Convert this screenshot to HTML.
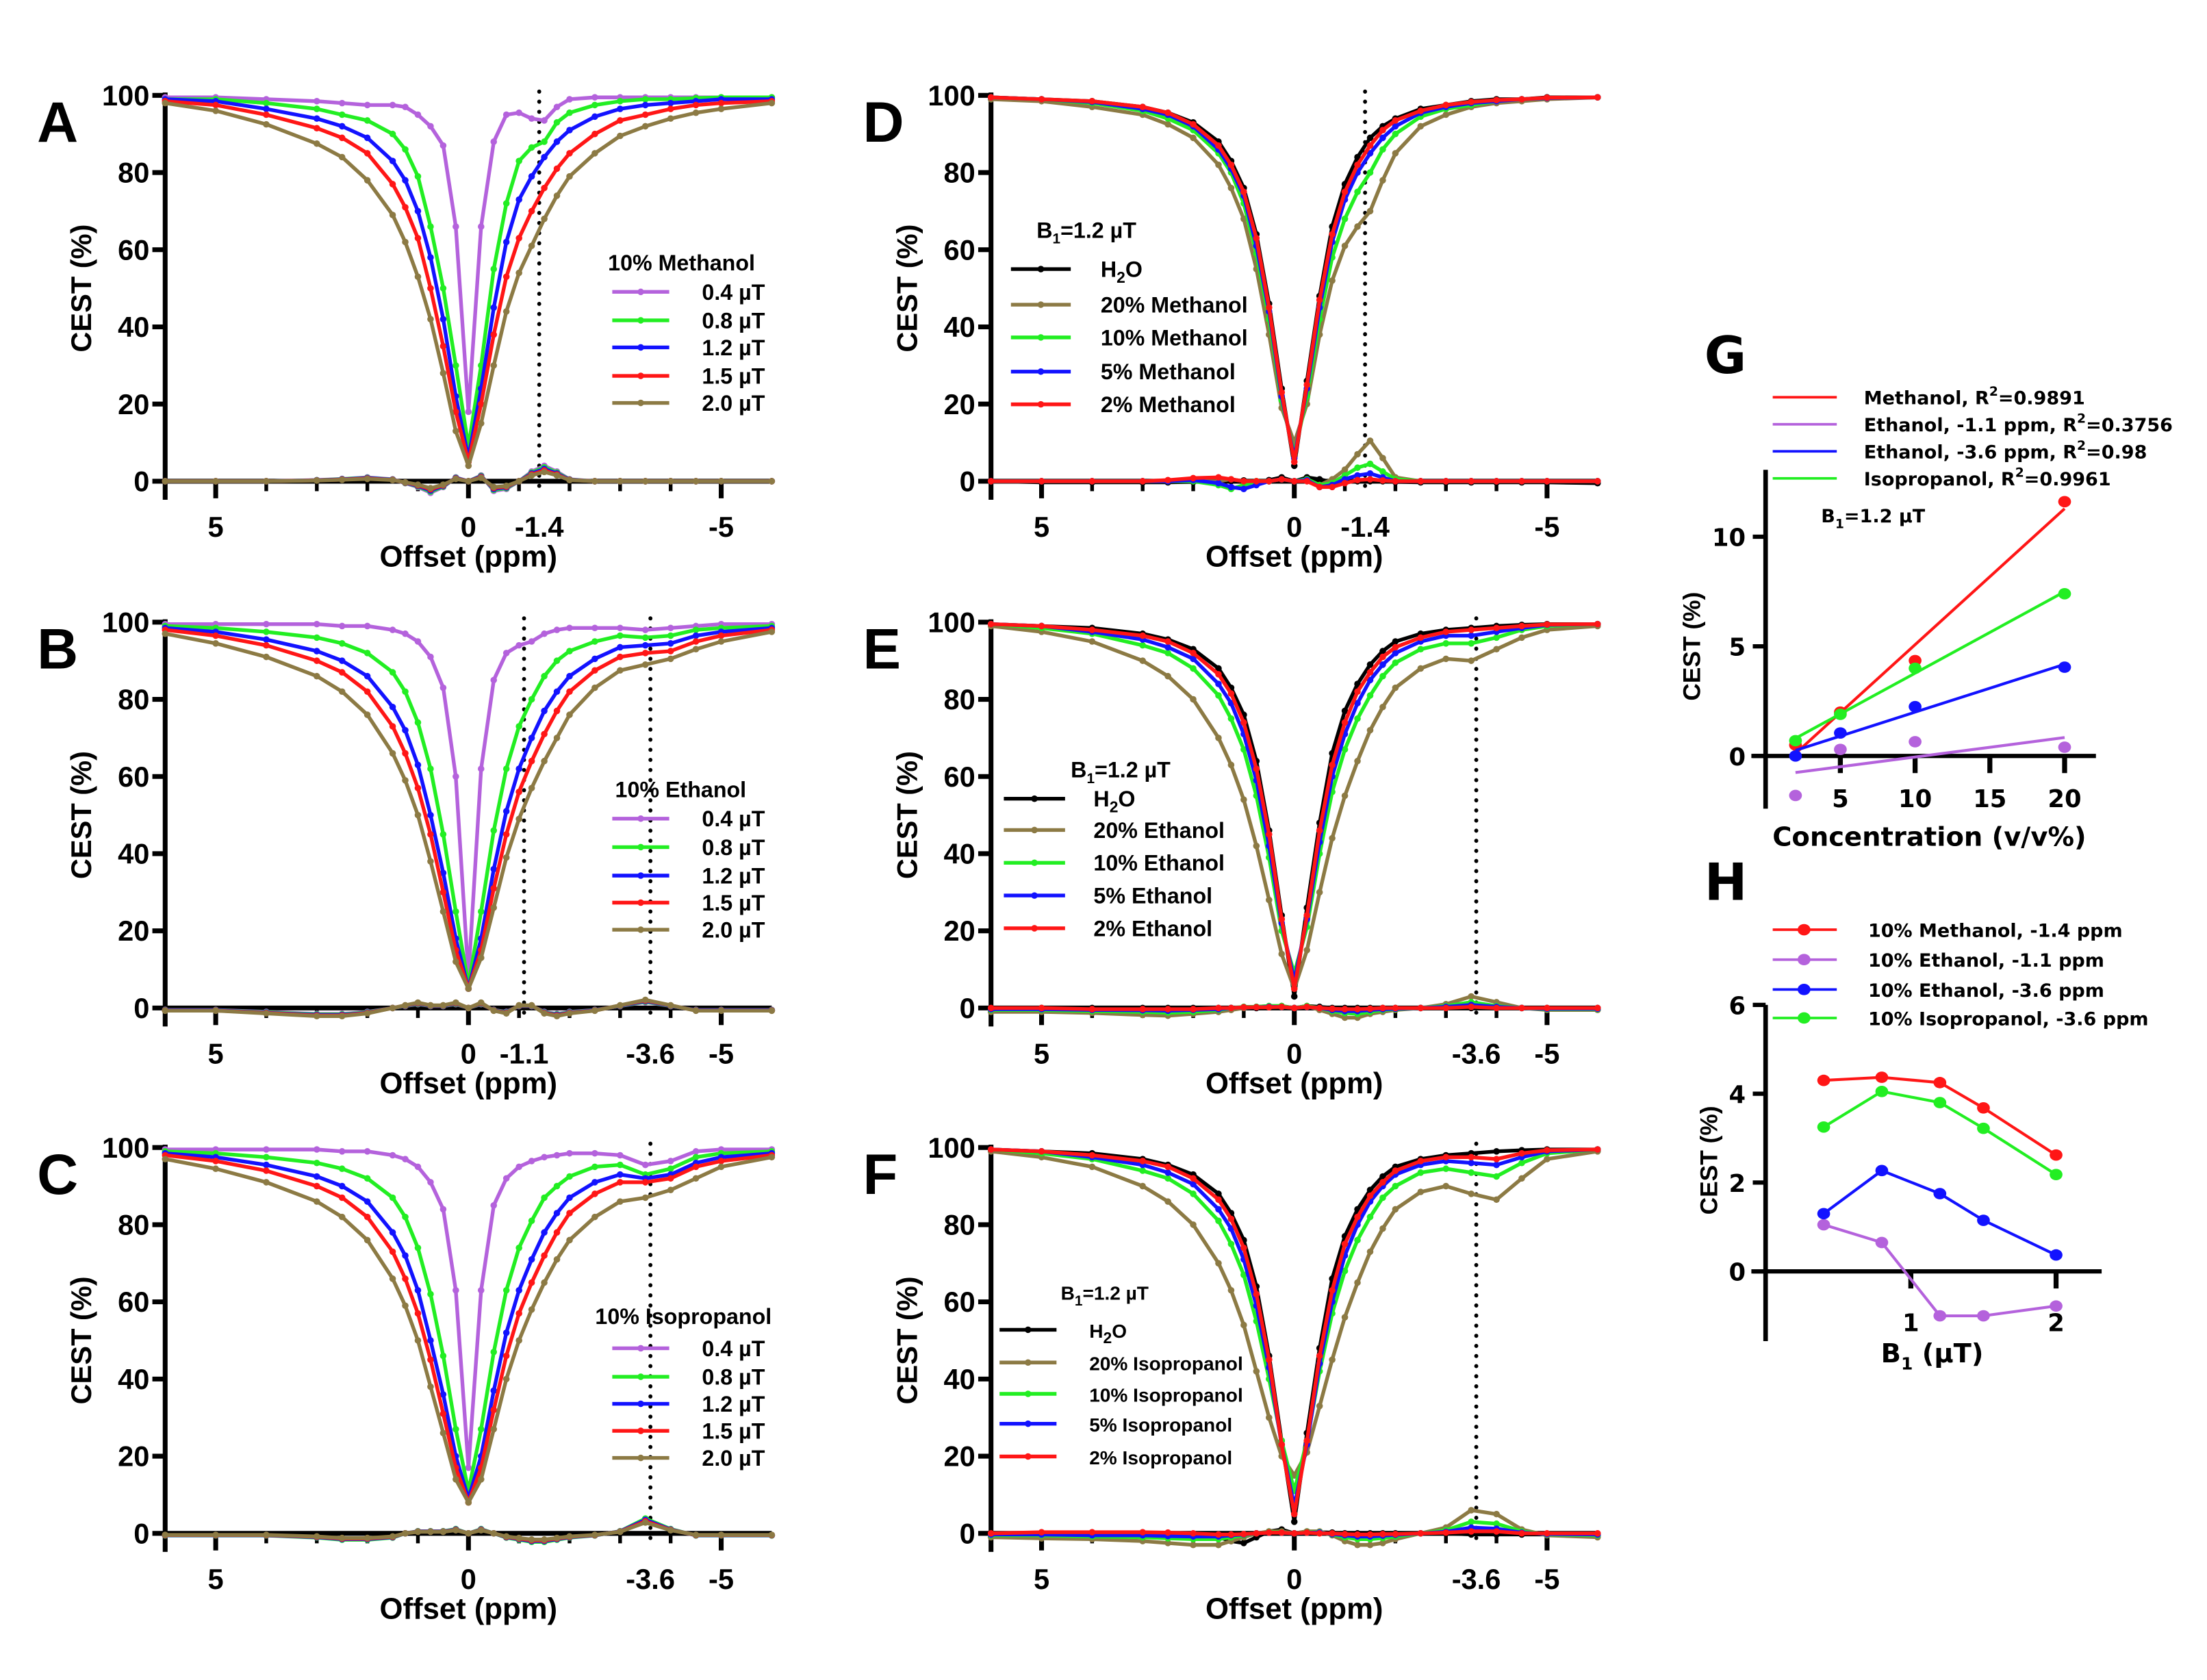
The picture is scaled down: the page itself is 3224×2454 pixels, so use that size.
<!DOCTYPE html>
<html><head><meta charset="utf-8"><style>
html,body{margin:0;padding:0;background:#fff;}
svg{display:block;font-family:"Liberation Sans Narrow","Liberation Sans",Arial,sans-serif;font-weight:bold;}
</style></head><body>
<svg id="fig" width="3224" height="2454" viewBox="0 0 1550 1180" preserveAspectRatio="none" xmlns="http://www.w3.org/2000/svg"></svg>
<script>
// ---------- data ----------
const offsets = [6,5,4,3,2.5,2,1.5,1.25,1,0.75,0.5,0.25,0,-0.25,-0.5,-0.75,-1,-1.25,-1.5,-1.75,-2,-2.5,-3,-3.5,-4,-4.5,-5,-6];

// Panel A: 10% methanol, B1 series
const A_b04 = [99.5,99.5,99,98.5,98,97.5,97.5,97,95,92,87,66,18,66,88,95,95.5,94,93.5,97,99,99.5,99.5,99.5,99.5,99.5,99.5,99.5];
const A_b08 = [99,99,98,96.5,95,93.5,90,86,79,66,50,30,9,30,55,72,83,86.5,88,93,95.5,97.5,98.5,99,99,99.3,99.5,99.5];
const A_b12 = [99,98.5,96.5,94,92,89,83,78,70,58,42,22,6,24,45,62,73,79,84,88,91,94.5,96.5,97.5,98,98.5,99,99];
const A_b15 = [98.5,97.5,95,91.5,89,85,77,71,63,50,35,18,5,20,38,53,63,70,76,81,85,90,93.5,95,96.5,97.5,98,98.5];
const A_b20 = [98,96,92.5,87.5,84,78,69,62,53,42,28,13,4,15,30,44,54,61,68,74,79,85,89.5,92,94,95.5,96.5,98];
const A_asym = [0,0,0,0.3,0.6,1,0.5,-0.5,-1.5,-3,-1.5,1,0,1.5,-2.5,-2,0,2.5,4,2.5,0.5,0,0,0,0,0,0,0];

// Panel B: 10% ethanol, B1 series
const B_b04 = [99.5,99.5,99.5,99.5,99,99,98,97,95,91,83,60,8,62,85,92,94,95,97,98,98.5,98.5,98.5,98,98.5,99,99.5,99.5];
const B_b08 = [99,98.5,97.5,96,94.5,92,87,82,74,62,45,25,6,25,46,62,73,80,86,90,92.5,95,96.5,96,96.5,98,98.5,99];
const B_b12 = [98.5,97.5,95.5,92.5,90,86,78,72,63,50,35,18,5,18,36,51,62,70,77,82,86,90.5,93.5,94,94.5,96.5,97.5,98.5];
const B_b15 = [98,96.5,94,90,87,82,73,66,57,45,30,15,5,15,31,45,56,64,71,77,82,87.5,91,92,92.5,95,96.5,98];
const B_b20 = [97,94.5,91,86,82,76,66,59,50,38,25,12,5,13,26,39,49,57,64,70,76,83,87.5,89,90.5,93,95,97.5];
const B_asym = [-0.5,-0.5,-1,-1.5,-1.5,-1,0,0.5,1,0.5,0.5,1,0,1,-0.5,-1,0.5,0.5,-1,-1.5,-1,-0.5,0.5,1.5,0.5,-0.5,-0.5,-0.5];

// Panel C: 10% isopropanol, B1 series
const C_b04 = [99.5,99.5,99.5,99.5,99,99,98,97,95,91,84,63,17,63,85,92,95,96.5,97.5,98,98.5,98.5,98,95.5,96.5,99,99.5,99.5];
const C_b08 = [99,98.5,97.5,96,94.5,92,87,82,74,62,46,27,11,27,47,63,74,81,87,90,92.5,95,95.5,93,94.5,97.5,98.5,99];
const C_b12 = [98.5,97.5,95.5,92.5,90,86,78,72,63,50,36,20,9,20,37,52,63,71,78,83,87,91,93,92,93,96,97.5,98.5];
const C_b15 = [98,96.5,94,90,87,82,73,66,57,45,31,17,8,17,32,46,57,65,72,78,83,88,91,91,92,95,96.5,98];
const C_b20 = [97,94.5,91,86,82,76,66,59,50,38,26,14,8,14,27,40,50,58,65,71,76,82,86,87,89,92,95,97.5];
const C_asym = [-0.5,-0.5,-0.5,-1,-1.5,-1.5,-1,0,0.5,0.5,0.5,1,0,1,0,-1,-1.5,-2,-2,-1.5,-1,-0.5,0.5,3.5,1,-0.5,-0.5,-0.5];

// Panel D: methanol concentrations at 1.2 uT
const D_h2o = [99.5,99,98.5,97,95.5,93,88,83,76,64,46,24,4,26,48,66,77,84,89,92,94,96.5,97.5,98.5,99,99,99.5,99.5];
const D_c20 = [99,98.5,97,95,92.5,89,82,76,68,55,38,19,10,20,38,52,61,66,70,78,85,92,95,97,98,98.5,99,99.5];
const D_c10 = [99.5,99,98,96,94,91,85,80,72,59,42,21,7,22,42,58,68,75,80,86,90,94.5,96.5,97.5,98.5,99,99.3,99.5];
const D_c05 = [99.5,99,98.3,96.5,95,92,86,81,74,61,44,22,6,24,45,62,73,80,85,89,92,95.5,97,98,98.5,99,99.3,99.5];
const D_c02 = [99.5,99,98.5,97,95.5,92.5,87,82,75,63,45,23,5,25,47,64,75,82,87,91,93.5,96,97.5,98.3,98.8,99,99.4,99.5];
const D_a20 = [0,0,0,0,0,0,0,0.5,0,0,0,0.5,0,0.5,-1,0.5,3,7,10.5,6,1,0,0,0,0,0,0,0];
const D_a10 = [0,0,0,0,0,0,-1,-2,-1,0,0,0.5,0,0.5,-1,-0.5,1.5,3.5,4.5,2.5,0.5,0,0,0,0,0,0,0];
const D_a05 = [0,0,0,0,0,0.3,-0.5,-1.5,-2,-1,0,0.5,0,0.3,-1.5,-1,0.5,1.5,2,1,0,0,0,0,0,0,0,0];
const D_a02 = [0,0,0,0,0.3,0.8,1,0.5,0,0,0,0.5,0,0,-1.5,-1.5,-0.5,0.3,0.5,0.2,0,0,0,0,0,0,0,0];
const D_ah2o = [0,-0.3,-0.3,-0.3,-0.3,-0.2,-0.2,0,0.2,-0.5,0.3,1,0,1,0.5,-0.3,0,0,0,0,-0.2,-0.3,-0.3,-0.3,-0.3,-0.3,-0.3,-0.5];

// Panel E: ethanol concentrations at 1.2 uT
const E_h2o = [99.5,99,98.5,97,95.5,93,88,83,76,64,46,24,3,26,48,66,77,84,89,92.5,95,97,98,98.5,99,99.3,99.5,99.5];
const E_c20 = [99,97.5,95,90,86,80,70,63,54,42,28,14,5,15,30,44,55,64,72,78,83,88,90.5,90,93,96,98,99];
const E_c10 = [99.5,98.5,97,94,92,88,81,75,67,55,39,20,9,21,40,56,67,75,81,86,89.5,93,94.5,94.5,96,98,99,99.5];
const E_c05 = [99.5,99,97.5,95.5,93.5,90.5,84,79,71,59,42,22,7,23,43,60,71,79,85,89,92,95,96.5,96.5,97.5,98.5,99.3,99.5];
const E_c02 = [99.5,99,98,96.5,95,92,86.5,81.5,74,62,45,23,5,24,46,63,74,82,87,91,93.5,96,97.5,98,98.5,99,99.4,99.5];
const E_a20 = [-1,-1,-1.3,-1.8,-2,-1.5,-1,-0.5,0,0.3,0.5,0.5,0,0.5,-0.5,-1.5,-2.5,-2.5,-1.5,-1,-0.5,0,1,3,1.5,0,-0.5,-0.5];
const E_a10 = [-0.5,-0.5,-0.8,-1,-1.2,-1,-0.5,0,0.3,0.3,0.5,0.5,0,0.5,0,-0.8,-1.3,-1.5,-1,-0.5,-0.3,0,0.5,1.5,0.5,0,-0.3,-0.3];
const E_a05 = [-0.3,-0.3,-0.5,-0.6,-0.7,-0.5,-0.3,0,0.2,0.2,0.3,0.3,0,0.3,0,-0.5,-0.8,-0.8,-0.5,-0.3,-0.2,0,0.3,0.8,0.3,0,-0.2,-0.2];
const E_a02 = [0,0,-0.3,-0.3,-0.3,-0.3,0,0,0.2,0.2,0.2,0.3,0,0.3,0,-0.2,-0.3,-0.3,-0.2,0,0,0,0,0.3,0,0,0,0];
const E_ah2o = [0,0,0,0,0,0,0,0,0,0,0.3,0.5,0,0.5,0.3,0,0,0,0,0,0,0,0,0,0,0,0,0];

// Panel F: isopropanol concentrations at 1.2 uT
const F_h2o = [99.5,99,98.5,97,95.5,93,88,83,76,64,46,24,3,26,48,66,77,84,89,92.5,95,97,98,98.5,99,99.3,99.5,99.5];
const F_c20 = [99,97.5,95,90,86,80,70,63,54,42,30,20,15,21,33,45,56,65,73,79,84,88.5,90,88,86.5,92,97,99];
const F_c10 = [99.5,98.5,97,94,92,88,81,75,67,55,40,24,11,24,42,57,68,76,82,87,90,93.5,94.5,93.5,92.5,96,98.5,99.5];
const F_c05 = [99.5,99,97.5,95.5,93.5,90.5,84,79,71,59,43,23,7,23,44,60,72,80,86,90,93,95.5,96.5,96,95.5,97.5,99,99.5];
const F_c02 = [99.5,99,98,96.5,95,92,86.5,81.5,74,62,45,23,5,24,46,63,75,82,87.5,91,94,96.5,97.5,97.5,97,98.5,99.3,99.5];
const F_a20 = [-1,-1.3,-1.5,-2,-2.5,-3,-3,-2,-1,0,0.5,0.5,0,0.5,0.5,-0.5,-2,-3,-3,-2.5,-1.5,0,1.5,6,5,1,-0.5,-1];
const F_a10 = [-0.5,-0.5,-0.8,-1,-1.3,-1.5,-1.5,-1,-0.5,0,0.3,0.3,0,0.3,0.3,-0.3,-1,-1.5,-1.5,-1.2,-0.8,0,0.8,3,2.5,0.5,-0.3,-0.5];
const F_a05 = [-0.3,-0.3,-0.5,-0.5,-0.7,-0.8,-0.8,-0.5,-0.3,0,0.2,0.2,0,0.2,0.2,-0.2,-0.5,-0.8,-0.8,-0.6,-0.4,0,0.4,1.5,1.2,0.2,-0.2,-0.3];
const F_a02 = [0,0.3,0.3,0.3,0.2,0,-0.3,-0.3,-0.2,0,0.2,0.2,0,0.2,0,0,-0.2,-0.3,-0.3,-0.2,-0.2,0,0.2,0.5,0.5,0,0,0];
const F_ah2o = [-0.3,-0.3,-0.3,-0.3,-0.3,-0.5,-1,-2,-2.5,-1,0.5,1,0,0.5,0.3,0.2,0,0,0,0,0,0,0,-0.3,-0.3,-0.3,-0.3,-0.3];

// Panel G: concentration dependence at 1.2 uT
const G_conc = [2,5,10,20];
const G_meth = [0.5,2.0,4.35,11.6];
const G_eth11 = [-1.8,0.3,0.65,0.4];
const G_eth36 = [0.0,1.05,2.25,4.05];
const G_iso = [0.7,1.9,4.0,7.4];
const G_yticks = [0,5,10];
const G_xticks = [5,10,15,20];

// Panel H: B1 dependence
const H_b1 = [0.4,0.8,1.2,1.5,2.0];
const H_meth = [4.3,4.37,4.25,3.68,2.62];
const H_eth11 = [1.05,0.65,-1.0,-1.0,-0.78];
const H_eth36 = [1.3,2.27,1.75,1.15,0.37];
const H_iso = [3.25,4.05,3.8,3.22,2.18];
const H_yticks = [0,2,4,6];
const H_xticks = [1,2];

const COL = {purple:'#b462dc', green:'#22ee22', blue:'#1212ff', red:'#ff1616', brown:'#8c7a44', black:'#000'};

// ---------- helpers ----------
const svg = document.getElementById('fig');
const NS = 'http://www.w3.org/2000/svg';
function el(tag, attrs, parent){
  const e = document.createElementNS(NS, tag);
  for (const k in attrs) e.setAttribute(k, attrs[k]);
  (parent||svg).appendChild(e);
  return e;
}
function txt(x,y,s,size,anchor,parent,name){
  const t = el('text',{x:x,y:y,'font-size':size,'text-anchor':anchor||'start'},parent);
  
  
  t.innerHTML = s;
  return t;
}

function zPanel(cfg){
  const g = el('g',{});
  
  
  const ax = cfg.ax, y0 = cfg.y0, ppx = 35.5, vpx = 2.71;
  const xs = p => ax + (6 - p) * ppx;
  const ys = v => y0 - v * vpx;
  cfg.dots.forEach(d => {
    const l = el('line',{x1:xs(d),x2:xs(d),y1:ys(101),y2:y0+10,stroke:'#000','stroke-width':2.8,'stroke-dasharray':'0.1 7','stroke-linecap':'round'},g);
    
    
  });
  const yAx = el('line',{x1:ax,x2:ax,y1:ys(100)-2,y2:y0+13,stroke:'#000','stroke-width':3.4},g);
  
  
  const xAx = el('line',{x1:ax,x2:xs(-6),y1:y0,y2:y0,stroke:'#000','stroke-width':3.4},g);
  
  
  [0,20,40,60,80,100].forEach(v => {
    el('line',{x1:ax-9,x2:ax,y1:ys(v),y2:ys(v),stroke:'#000','stroke-width':3.4},g);
    txt(ax-11, ys(v)+7, String(v), 20, 'end', g, 'y-tick-label');
  });
  for (let p = 5; p >= -5; p--) {
    const major = (p===5||p===0||p===-5);
    el('line',{x1:xs(p),x2:xs(p),y1:y0,y2:y0+(major?12:7),stroke:'#000','stroke-width':major?3.4:2.6},g);
  }
  cfg.xlabels.forEach(([p,s]) => txt(xs(p), y0+39, s, 20, 'middle', g, 'x-tick-label'));
  txt(xs(0), y0+60, 'Offset (ppm)', 21, 'middle', g, 'x-axis-title');
  const yt = txt(0,0,'CEST (%)',20,'middle',g,'y-axis-title');
  yt.setAttribute('font-family',"'Liberation Sans',sans-serif");
  yt.setAttribute('transform', `translate(${ax-52},${ys(50)}) rotate(-90)`);
  txt(ax-90, ys(88), cfg.letter, 40, 'start', g, 'panel-letter').setAttribute('font-family',"'Liberation Sans',sans-serif");
  cfg.series.forEach(s => {
    const sg = el('g',{},g);
    
    
    [s.asym, s.z].forEach(arr => {
      if (!arr) return;
      const pts = offsets.map((o,i) => xs(o).toFixed(1)+','+ys(arr[i]).toFixed(1)).join(' ');
      const pl = el('polyline',{points:pts,fill:'none',stroke:s.c,'stroke-width':2.6,'stroke-linejoin':'round'},sg);
      
      
      offsets.forEach((o,i) => {
        const c = el('circle',{cx:xs(o),cy:ys(arr[i]),r:2.3,fill:s.c},sg);
        
        
      });
    });
  });
  const lg = el('g',{},g);
  
  
  txt(cfg.leg.tx, cfg.leg.ty, cfg.leg.title, cfg.leg.fs, 'start', lg, 'legend-title');
  cfg.series.forEach((s,i) => {
    const y = cfg.leg.rows[i];
    const l = el('line',{x1:cfg.leg.lx1,x2:cfg.leg.lx2,y1:y,y2:y,stroke:s.c,'stroke-width':2.6},lg);
    
    
    el('circle',{cx:(cfg.leg.lx1+cfg.leg.lx2)/2,cy:y,r:2.3,fill:s.c},lg);
    txt(cfg.leg.lab, y+5.5, s.label, cfg.leg.fs, 'start', lg, 'legend-entry');
  });
}

const B1 = 'B<tspan font-size="10" dy="4">1</tspan><tspan dy="-4">=1.2 µT</tspan>';
const H2O = 'H<tspan font-size="11" dy="4">2</tspan><tspan dy="-4">O</tspan>';

zPanel({name:'panel-a',letter:'A',ax:116,y0:338,dots:[-1.4],xlabels:[[5,'5'],[0,'0'],[-1.4,'-1.4'],[-5,'-5']],
  series:[{key:'0.4uT',c:COL.purple,z:A_b04,asym:A_asym,label:'0.4 µT'},{key:'0.8uT',c:COL.green,z:A_b08,asym:A_asym.map(v=>v*0.9),label:'0.8 µT'},
          {key:'1.2uT',c:COL.blue,z:A_b12,asym:A_asym.map(v=>v*0.8),label:'1.2 µT'},{key:'1.5uT',c:COL.red,z:A_b15,asym:A_asym.map(v=>v*0.7),label:'1.5 µT'},
          {key:'2.0uT',c:COL.brown,z:A_b20,asym:A_asym.map(v=>v*0.6),label:'2.0 µT'}],
  leg:{title:'10% Methanol',tx:427,ty:190,fs:15.5,rows:[205,225,244,264,283],lx1:430,lx2:470,lab:493}});
zPanel({name:'panel-b',letter:'B',ax:116,y0:708,dots:[-1.1,-3.6],xlabels:[[5,'5'],[0,'0'],[-1.1,'-1.1'],[-3.6,'-3.6'],[-5,'-5']],
  series:[{key:'0.4uT',c:COL.purple,z:B_b04,asym:B_asym,label:'0.4 µT'},{key:'0.8uT',c:COL.green,z:B_b08,asym:B_asym.map(v=>v*1.1),label:'0.8 µT'},
          {key:'1.2uT',c:COL.blue,z:B_b12,asym:B_asym.map(v=>v*1.2),label:'1.2 µT'},{key:'1.5uT',c:COL.red,z:B_b15,asym:B_asym.map(v=>v*1.3),label:'1.5 µT'},
          {key:'2.0uT',c:COL.brown,z:B_b20,asym:B_asym.map(v=>v*1.4),label:'2.0 µT'}],
  leg:{title:'10% Ethanol',tx:432,ty:560,fs:15.5,rows:[575,595,615,634,653],lx1:430,lx2:470,lab:493}});
zPanel({name:'panel-c',letter:'C',ax:116,y0:1077,dots:[-3.6],xlabels:[[5,'5'],[0,'0'],[-3.6,'-3.6'],[-5,'-5']],
  series:[{key:'0.4uT',c:COL.purple,z:C_b04,asym:C_asym,label:'0.4 µT'},{key:'0.8uT',c:COL.green,z:C_b08,asym:C_asym.map(v=>v*1.1),label:'0.8 µT'},
          {key:'1.2uT',c:COL.blue,z:C_b12,asym:C_asym.map(v=>v*1.0),label:'1.2 µT'},{key:'1.5uT',c:COL.red,z:C_b15,asym:C_asym.map(v=>v*0.9),label:'1.5 µT'},
          {key:'2.0uT',c:COL.brown,z:C_b20,asym:C_asym.map(v=>v*0.8),label:'2.0 µT'}],
  leg:{title:'10% Isopropanol',tx:418,ty:930,fs:15.5,rows:[947,967,986,1005,1024],lx1:430,lx2:470,lab:493}});
zPanel({name:'panel-d',letter:'D',ax:696,y0:338,dots:[-1.4],xlabels:[[5,'5'],[0,'0'],[-1.4,'-1.4'],[-5,'-5']],
  series:[{key:'h2o',c:COL.black,z:D_h2o,asym:D_ah2o,label:H2O},{key:'20pct',c:COL.brown,z:D_c20,asym:D_a20,label:'20% Methanol'},
          {key:'10pct',c:COL.green,z:D_c10,asym:D_a10,label:'10% Methanol'},{key:'5pct',c:COL.blue,z:D_c05,asym:D_a05,label:'5% Methanol'},
          {key:'2pct',c:COL.red,z:D_c02,asym:D_a02,label:'2% Methanol'}],
  leg:{title:B1,tx:728,ty:167,fs:15.5,rows:[189,214,237,261,284],lx1:710,lx2:752,lab:773}});
zPanel({name:'panel-e',letter:'E',ax:696,y0:708,dots:[-3.6],xlabels:[[5,'5'],[0,'0'],[-3.6,'-3.6'],[-5,'-5']],
  series:[{key:'h2o',c:COL.black,z:E_h2o,asym:E_ah2o,label:H2O},{key:'20pct',c:COL.brown,z:E_c20,asym:E_a20,label:'20% Ethanol'},
          {key:'10pct',c:COL.green,z:E_c10,asym:E_a10,label:'10% Ethanol'},{key:'5pct',c:COL.blue,z:E_c05,asym:E_a05,label:'5% Ethanol'},
          {key:'2pct',c:COL.red,z:E_c02,asym:E_a02,label:'2% Ethanol'}],
  leg:{title:B1,tx:752,ty:546,fs:15.5,rows:[561,583,606,629,652],lx1:705,lx2:748,lab:768}});
zPanel({name:'panel-f',letter:'F',ax:696,y0:1077,dots:[-3.6],xlabels:[[5,'5'],[0,'0'],[-3.6,'-3.6'],[-5,'-5']],
  series:[{key:'h2o',c:COL.black,z:F_h2o,asym:F_ah2o,label:H2O},{key:'20pct',c:COL.brown,z:F_c20,asym:F_a20,label:'20% Isopropanol'},
          {key:'10pct',c:COL.green,z:F_c10,asym:F_a10,label:'10% Isopropanol'},{key:'5pct',c:COL.blue,z:F_c05,asym:F_a05,label:'5% Isopropanol'},
          {key:'2pct',c:COL.red,z:F_c02,asym:F_a02,label:'2% Isopropanol'}],
  leg:{title:B1,tx:745,ty:913,fs:13.5,rows:[934,957,979,1000,1023],lx1:702,lx2:742,lab:765}});

// ---------- Panel G ----------
(function(){
  const g = el('g',{});
  
  
  const ax = 1240, y0 = 531;
  const xs = c => ax + c * 10.5;
  const ys = v => y0 - v * 15.4;
  const wide = "'DejaVu Sans','Liberation Sans',sans-serif";
  const yAx = el('line',{x1:ax,x2:ax,y1:330,y2:568,stroke:'#000','stroke-width':3.2},g);
  
  
  const xAx = el('line',{x1:ax-10,x2:1472,y1:y0,y2:y0,stroke:'#000','stroke-width':3},g);
  
  
  G_yticks.forEach(v => { el('line',{x1:ax-9,x2:ax,y1:ys(v),y2:ys(v),stroke:'#000','stroke-width':3},g);
    txt(ax-14, ys(v)+6.5, String(v), 17, 'end', g, 'y-tick-label').setAttribute('font-family',wide); });
  G_xticks.forEach(c => { el('line',{x1:xs(c),x2:xs(c),y1:y0,y2:y0+12,stroke:'#000','stroke-width':3.5},g);
    txt(xs(c), y0+36, String(c), 17, 'middle', g, 'x-tick-label').setAttribute('font-family',wide); });
  txt(1355, 594, 'Concentration (v/v%)', 18.5, 'middle', g, 'x-axis-title').setAttribute('font-family',wide);
  const yt = txt(0,0,'CEST (%)',17,'middle',g,'y-axis-title');
  yt.setAttribute('font-family',"'Liberation Sans',sans-serif");
  yt.setAttribute('transform','translate(1194,454) rotate(-90)');
  txt(1197, 262, 'G', 36, 'start', g, 'panel-letter').setAttribute('font-family',wide);
  txt(1279, 367, 'B<tspan font-size="9" dy="4">1</tspan><tspan dy="-4">=1.2 µT</tspan>', 13, 'start', g, 'b1-annotation').setAttribute('font-family',wide);
  const sers = [{k:'methanol',c:COL.red,d:G_meth,l:'Methanol, R<tspan font-size="9" dy="-6">2</tspan><tspan dy="6">=0.9891</tspan>'},
                {k:'ethanol-1.1ppm',c:COL.purple,d:G_eth11,l:'Ethanol, -1.1 ppm, R<tspan font-size="9" dy="-6">2</tspan><tspan dy="6">=0.3756</tspan>'},
                {k:'ethanol-3.6ppm',c:COL.blue,d:G_eth36,l:'Ethanol, -3.6 ppm, R<tspan font-size="9" dy="-6">2</tspan><tspan dy="6">=0.98</tspan>'},
                {k:'isopropanol',c:COL.green,d:G_iso,l:'Isopropanol, R<tspan font-size="9" dy="-6">2</tspan><tspan dy="6">=0.9961</tspan>'}];
  const legRows = [279,298,317,336];
  sers.forEach((s,i) => {
    const n = G_conc.length;
    const mx = G_conc.reduce((a,b)=>a+b,0)/n, my = s.d.reduce((a,b)=>a+b,0)/n;
    let sxy=0,sxx=0; G_conc.forEach((x,j)=>{sxy+=(x-mx)*(s.d[j]-my); sxx+=(x-mx)*(x-mx);});
    const m = sxy/sxx, b = my - m*mx;
    const fl = el('line',{x1:xs(G_conc[0]),y1:ys(m*G_conc[0]+b),x2:xs(G_conc[n-1]),y2:ys(m*G_conc[n-1]+b),stroke:s.c,'stroke-width':2},g);
    
    
    G_conc.forEach((x,j) => {
      const c = el('ellipse',{cx:xs(x),cy:ys(s.d[j]),rx:4.5,ry:4,fill:s.c},g);
      
      
    });
    const y = legRows[i];
    const ll = el('line',{x1:1245,x2:1290,y1:y,y2:y,stroke:s.c,'stroke-width':1.8},g);
    
    
    txt(1309, y+5, s.l, 13, 'start', g, 'legend-entry').setAttribute('font-family',wide);
  });
})();

// ---------- Panel H ----------
(function(){
  const g = el('g',{});
  
  
  const ax = 1240, y0 = 893;
  const xs = b => ax + b * 102;
  const ys = v => y0 - v * 31.2;
  const wide = "'DejaVu Sans','Liberation Sans',sans-serif";
  const yAx = el('line',{x1:ax,x2:ax,y1:ys(6),y2:942,stroke:'#000','stroke-width':3.2},g);
  
  
  const xAx = el('line',{x1:ax-10,x2:1476,y1:y0,y2:y0,stroke:'#000','stroke-width':3},g);
  
  
  H_yticks.forEach(v => { el('line',{x1:ax-9,x2:ax,y1:ys(v),y2:ys(v),stroke:'#000','stroke-width':3},g);
    txt(ax-14, ys(v)+6.5, String(v), 17, 'end', g, 'y-tick-label').setAttribute('font-family',wide); });
  H_xticks.forEach(b => { el('line',{x1:xs(b),x2:xs(b),y1:y0,y2:y0+12,stroke:'#000','stroke-width':3.5},g);
    txt(xs(b), y0+42, String(b), 17, 'middle', g, 'x-tick-label').setAttribute('font-family',wide); });
  txt(1357, 957, 'B<tspan font-size="12" dy="5">1</tspan><tspan dy="-5"> (µT)</tspan>', 18.5, 'middle', g, 'x-axis-title').setAttribute('font-family',wide);
  const yt = txt(0,0,'CEST (%)',17,'middle',g,'y-axis-title');
  yt.setAttribute('font-family',"'Liberation Sans',sans-serif");
  yt.setAttribute('transform','translate(1206,815) rotate(-90)');
  txt(1197, 632, 'H', 36, 'start', g, 'panel-letter').setAttribute('font-family',wide);
  const sers = [{k:'methanol-1.4ppm',c:COL.red,d:H_meth,l:'10% Methanol, -1.4 ppm'},
                {k:'ethanol-1.1ppm',c:COL.purple,d:H_eth11,l:'10% Ethanol, -1.1 ppm'},
                {k:'ethanol-3.6ppm',c:COL.blue,d:H_eth36,l:'10% Ethanol, -3.6 ppm'},
                {k:'isopropanol-3.6ppm',c:COL.green,d:H_iso,l:'10% Isopropanol, -3.6 ppm'}];
  const legRows = [653,674,695,715];
  sers.forEach((s,i) => {
    const pts = H_b1.map((b,j)=>xs(b).toFixed(1)+','+ys(s.d[j]).toFixed(1)).join(' ');
    const pl = el('polyline',{points:pts,fill:'none',stroke:s.c,'stroke-width':2},g);
    
    
    H_b1.forEach((b,j) => {
      const c = el('ellipse',{cx:xs(b),cy:ys(s.d[j]),rx:4.5,ry:4,fill:s.c},g);
      
      
    });
    const y = legRows[i];
    const ll = el('line',{x1:1245,x2:1290,y1:y,y2:y,stroke:s.c,'stroke-width':1.8},g);
    
    
    el('ellipse',{cx:1267,cy:y,rx:4.5,ry:4,fill:s.c},g);
    txt(1312, y+5, s.l, 13, 'start', g, 'legend-entry').setAttribute('font-family',wide);
  });
})();
</script>
</body></html>
